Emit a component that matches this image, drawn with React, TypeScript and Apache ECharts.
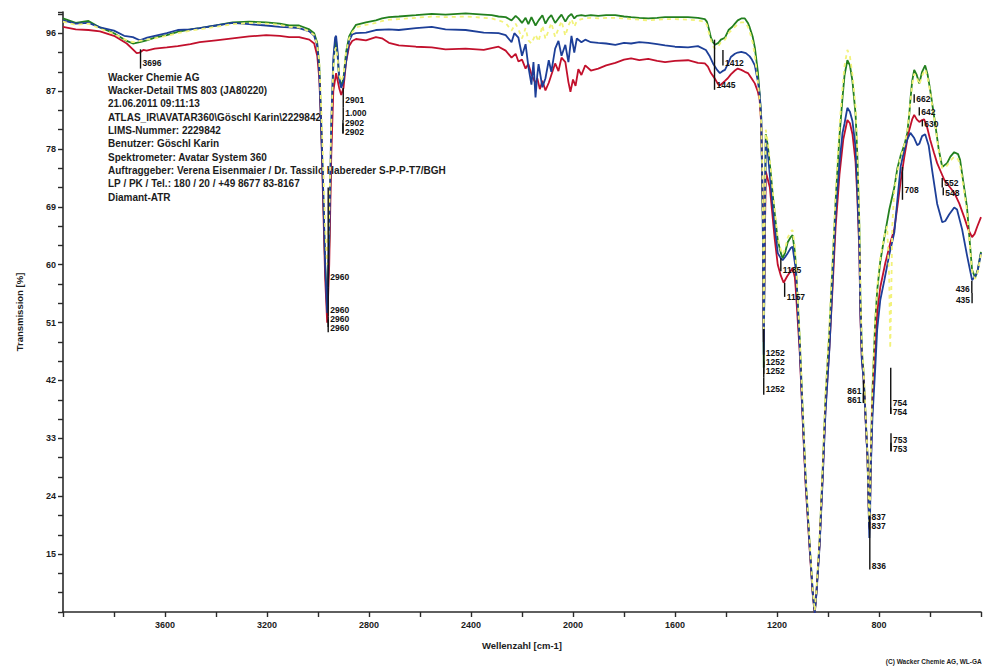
import React, { useEffect, useRef } from "react";
import * as echarts from "echarts";

// IR spectra (ATR), transmission in % over wavenumber in cm-1
const redSpectrum: number[][] = [
  [4000, 97.0], [3950, 96.6], [3900, 96.5], [3855, 96.3], [3800, 95.6], [3750, 94.4], [3726, 93.5], [3711, 92.9],
  [3699, 93.0], [3685, 93.4], [3672, 93.3], [3640, 93.6], [3593, 93.8], [3550, 94.0], [3500, 94.3], [3464, 94.6],
  [3400, 94.9], [3335, 95.2], [3270, 95.5], [3203, 95.7], [3150, 95.6], [3113, 95.4], [3074, 95.4], [3034, 95.0],
  [3015, 94.4], [3003, 92.5], [2995, 89], [2988, 82], [2980, 70], [2972, 58], [2964, 51], [2956, 60], [2948, 77],
  [2940, 87], [2929, 89.8], [2917, 87.5], [2909, 86.4], [2900, 87.5], [2890, 91.5], [2878, 94.0], [2866, 94.8],
  [2851, 95.1], [2812, 94.9], [2773, 95.4], [2749, 95.2], [2722, 94.5], [2683, 94.1], [2616, 93.9], [2554, 93.8],
  [2500, 93.5], [2421, 93.6], [2350, 93.4], [2319, 93.7], [2292, 93.9], [2264, 93.3], [2241, 92.2], [2225, 92.8],
  [2214, 91.6], [2200, 91.9], [2186, 90.5], [2175, 91.2], [2163, 89.6], [2147, 88.2], [2140, 89.0], [2130, 87.3],
  [2120, 88.6], [2108, 87.1], [2095, 88.3], [2085, 89.5], [2070, 91.3], [2057, 90.1], [2045, 92.2], [2030, 91.5],
  [2018, 88.4], [2010, 86.9], [2000, 88.8], [1990, 87.8], [1979, 90.4], [1967, 89.5], [1952, 91.0], [1930, 90.2],
  [1901, 90.5], [1870, 91.0], [1834, 91.4], [1800, 91.9], [1772, 92.1], [1740, 91.8], [1705, 92.0], [1670, 91.7],
  [1639, 91.5], [1600, 91.7], [1549, 91.8], [1510, 91.4], [1483, 91.3], [1471, 90.8], [1459, 89.8], [1443, 88.9],
  [1430, 88.0], [1424, 87.9], [1404, 88.6], [1393, 89.0], [1381, 89.6], [1365, 90.2], [1354, 90.5], [1340, 90.3],
  [1326, 90.0], [1314, 89.8], [1300, 89.0], [1287, 88.2], [1275, 86.9], [1268, 85.6], [1262, 82], [1256, 70],
  [1252, 48], [1248, 63], [1244, 74.5], [1228, 72], [1209, 64], [1197, 60], [1185, 58.3], [1174, 57.2],
  [1160, 58.2], [1150, 58.8], [1139, 59.5], [1130, 58], [1127, 56.5], [1111, 46.5], [1100, 36.5], [1088, 26],
  [1072, 15.8], [1060, 8.8], [1052, 5.8], [1045, 9.2], [1033, 16.5], [1021, 27], [1010, 37.5], [994, 47.5],
  [982, 56.5], [970, 66], [955, 74], [940, 79.5], [924, 82.5], [914, 82.0], [904, 80.3], [892, 76], [885, 70.5],
  [877, 62], [873, 52], [867, 45], [861, 42.8], [855, 38], [849, 33], [845, 30], [841, 23], [838, 19], [835, 22.5],
  [833, 27.5], [826, 38], [815, 47], [807, 52.5], [795, 56.5], [775, 60.3], [755, 63.5], [740, 65.5], [728, 69],
  [715, 73], [701, 76.7], [689, 79.5], [681, 81], [670, 82.6], [662, 83.3], [652, 82.6], [642, 82.2], [631, 82.5],
  [623, 82.6], [612, 81.5], [599, 79.4], [585, 77.5], [572, 75.8], [558, 74.5], [544, 73.2], [525, 72.2],
  [505, 71.2], [485, 69.5], [466, 67.4], [450, 65.5], [435, 64.3], [425, 64.8], [415, 65.9], [400, 67.4],
];

const blueSpectrum: number[][] = [
  [4000, 98.0], [3950, 97.5], [3900, 97.6], [3855, 96.9], [3800, 96.4], [3760, 95.6], [3726, 95.4], [3699, 94.9],
  [3670, 95.3], [3640, 95.6], [3593, 96.0], [3550, 96.5], [3500, 96.6], [3464, 96.8], [3400, 97.2], [3335, 97.6],
  [3270, 97.4], [3203, 97.2], [3150, 97.0], [3113, 96.9], [3074, 96.8], [3034, 96.3], [3015, 95.6], [3003, 94.0],
  [2995, 90], [2988, 82], [2980, 72], [2972, 60], [2964, 52.5], [2956, 64], [2948, 82], [2940, 92], [2933, 95.3],
  [2929, 95.6], [2923, 93], [2917, 89], [2909, 87.5], [2900, 88.5], [2890, 91.5], [2878, 94.8], [2866, 95.8],
  [2851, 96.0], [2812, 96.1], [2773, 96.5], [2722, 96.6], [2683, 96.5], [2616, 96.8], [2554, 97.0], [2500, 96.6],
  [2421, 96.5], [2350, 96.1], [2292, 96.0], [2264, 95.7], [2241, 94.6], [2230, 96.0], [2214, 95.3], [2200, 92.5],
  [2186, 94.3], [2175, 90.8], [2163, 88.0], [2155, 91.5], [2147, 86.0], [2140, 89.5], [2135, 91.2], [2120, 87.6],
  [2108, 89.0], [2095, 91.8], [2085, 90.0], [2070, 93.6], [2057, 94.8], [2045, 92.5], [2030, 94.2], [2018, 91.5],
  [2006, 95.6], [1995, 93.0], [1985, 95.2], [1967, 94.6], [1952, 95.0], [1930, 94.6], [1901, 94.5], [1870, 94.4],
  [1834, 94.2], [1800, 94.5], [1772, 94.4], [1740, 94.6], [1705, 94.5], [1670, 94.3], [1639, 94.1], [1600, 93.9],
  [1549, 93.8], [1510, 94.0], [1479, 93.4], [1465, 92.5], [1451, 91.3], [1435, 90.3], [1424, 89.8], [1414, 90.1],
  [1404, 90.3], [1393, 91.2], [1381, 92.3], [1365, 92.8], [1354, 93.0], [1340, 93.1], [1322, 92.9], [1307, 92.4],
  [1300, 92.0], [1287, 91.0], [1275, 88.5], [1268, 86.5], [1262, 83], [1256, 68], [1252, 46], [1248, 64],
  [1244, 79.4], [1236, 77.4], [1224, 72.1], [1209, 65.8], [1197, 61.8], [1185, 61.0], [1178, 60.7], [1168, 61.2],
  [1158, 61.8], [1146, 62.6], [1139, 62.8], [1127, 59.5], [1111, 47.2], [1100, 37], [1088, 26.6], [1072, 16.2],
  [1060, 9], [1052, 5.8], [1045, 9], [1033, 16.2], [1021, 26.6], [1010, 37], [994, 47.2], [982, 57.6], [970, 68],
  [955, 75.8], [943, 80.5], [935, 82], [924, 84.4], [914, 83.8], [904, 82.3], [892, 78.3], [885, 71.6], [877, 62.8],
  [873, 52.5], [867, 45], [861, 42.5], [855, 38], [849, 33], [845, 30], [841, 23], [838, 17.5], [835, 21], [833, 27],
  [826, 36], [815, 43.7], [807, 50], [795, 54.5], [779, 57.6], [760, 61.5], [740, 65], [728, 70], [715, 75.3],
  [701, 77.8], [689, 79.5], [677, 80.5], [662, 79.7], [650, 78.6], [642, 78.8], [631, 80.0], [619, 80.3],
  [605, 78.5], [591, 74.5], [572, 69.5], [552, 66.6], [540, 66.8], [525, 67.8], [505, 68.9], [494, 68.6],
  [474, 65.5], [455, 61.5], [435, 57.6], [415, 58.7], [400, 61.8],
];

const greenSpectrum: number[][] = [
  [4000, 98.3], [3950, 97.6], [3900, 97.9], [3855, 96.9], [3800, 96.0], [3750, 94.8], [3726, 94.4], [3699, 94.6],
  [3672, 94.9], [3640, 95.3], [3593, 95.7], [3550, 96.2], [3500, 96.6], [3464, 96.8], [3400, 97.2], [3335, 97.7],
  [3270, 97.8], [3203, 97.7], [3150, 97.5], [3113, 97.2], [3074, 97.2], [3034, 96.6], [3015, 96.0], [3003, 94.5],
  [2995, 91], [2988, 83], [2980, 72], [2972, 60], [2964, 53], [2956, 63], [2948, 80], [2940, 91], [2933, 94.5],
  [2929, 94.8], [2923, 92.5], [2917, 89], [2909, 87.8], [2900, 89], [2890, 93], [2878, 95.5], [2866, 96.4],
  [2851, 97.3], [2812, 97.7], [2773, 98.0], [2749, 98.3], [2722, 98.5], [2683, 98.6], [2616, 98.8], [2554, 99.0],
  [2500, 98.9], [2421, 99.1], [2350, 98.9], [2319, 98.8], [2292, 98.6], [2264, 98.5], [2241, 98.0], [2225, 98.7],
  [2214, 98.3], [2200, 97.6], [2186, 98.4], [2175, 97.4], [2163, 98.5], [2147, 97.2], [2135, 98.0], [2120, 98.8],
  [2108, 97.5], [2095, 98.4], [2085, 98.8], [2070, 97.6], [2057, 98.3], [2045, 98.9], [2030, 97.8], [2018, 98.6],
  [2006, 99.0], [1995, 98.3], [1985, 98.7], [1967, 98.8], [1952, 98.7], [1930, 98.8], [1901, 98.7], [1870, 98.8],
  [1834, 98.8], [1800, 98.6], [1772, 98.5], [1740, 98.4], [1705, 98.3], [1670, 98.4], [1639, 98.5], [1600, 98.5],
  [1549, 98.5], [1510, 98.4], [1483, 98.2], [1475, 97.8], [1468, 96.8], [1459, 95.3], [1451, 94.6], [1443, 94.2],
  [1430, 94.5], [1420, 95.0], [1404, 95.3], [1390, 96.5], [1375, 97.0], [1365, 97.5], [1354, 98.0], [1340, 98.3],
  [1326, 98.3], [1314, 97.6], [1307, 96.9], [1295, 95.4], [1287, 93.8], [1275, 90.0], [1268, 86.5], [1262, 83],
  [1256, 68], [1252, 44], [1248, 66], [1244, 80.3], [1236, 78.5], [1225, 74.5], [1217, 71], [1205, 66.5],
  [1197, 63.8], [1185, 61.8], [1178, 61.0], [1168, 61.9], [1158, 63.5], [1146, 64.3], [1139, 64.6], [1130, 62.0],
  [1127, 60.5], [1111, 48.5], [1100, 38], [1088, 27], [1072, 16.5], [1060, 9.2], [1052, 6.0], [1045, 9.3],
  [1033, 17], [1021, 28], [1010, 39], [994, 50], [982, 60], [970, 70], [955, 80], [943, 86], [935, 89.5],
  [924, 91.8], [914, 91.0], [904, 88.5], [892, 83.5], [885, 77], [877, 66], [873, 55], [867, 46.5], [861, 43.5],
  [855, 38.5], [849, 33.5], [845, 30], [841, 23.5], [838, 19.5], [835, 23], [833, 29], [826, 40], [815, 51],
  [807, 56], [795, 60.5], [779, 64.3], [760, 68.5], [740, 72], [728, 75], [715, 77], [708, 77.8], [698, 79],
  [689, 80.5], [681, 83.5], [677, 85.6], [670, 88.5], [662, 90.3], [652, 89.5], [642, 88.2], [631, 90.0],
  [619, 91.0], [609, 89.5], [599, 87.1], [580, 82], [566, 78], [552, 75.2], [533, 75.8], [520, 76.8], [505, 77.5],
  [490, 77.2], [482, 76.3], [468, 72.5], [455, 69], [445, 64], [435, 59.2], [423, 58], [412, 59.3], [404, 61.2],
  [400, 62],
];

const yellowSpectrum: number[][] = [
  [4000, 97.8], [3950, 97.3], [3900, 97.5], [3855, 96.7], [3800, 95.9], [3750, 94.9], [3726, 94.6], [3699, 94.8],
  [3672, 95.0], [3640, 95.2], [3593, 95.6], [3550, 96.0], [3500, 96.4], [3464, 96.6], [3400, 97.0], [3335, 97.4],
  [3270, 97.6], [3203, 97.5], [3150, 97.3], [3113, 97.0], [3074, 96.9], [3034, 96.3], [3015, 95.7], [3003, 94.2],
  [2995, 91.5], [2988, 85], [2980, 76], [2972, 66], [2964, 60], [2956, 68], [2948, 82], [2940, 90.5], [2933, 93.5],
  [2929, 93.8], [2923, 92], [2917, 89.5], [2909, 88.5], [2900, 89.5], [2890, 93], [2878, 95.2], [2866, 96.1],
  [2851, 96.9], [2812, 97.3], [2773, 97.6], [2749, 97.9], [2722, 98.1], [2683, 98.2], [2616, 98.4], [2554, 98.6],
  [2500, 98.5], [2421, 98.6], [2350, 98.4], [2319, 98.3], [2292, 98.0], [2264, 97.6], [2241, 96.4], [2225, 97.5],
  [2214, 96.6], [2200, 95.2], [2186, 96.8], [2175, 94.9], [2163, 94.4], [2147, 95.8], [2135, 94.7], [2120, 97.2],
  [2108, 95.1], [2095, 96.5], [2085, 97.6], [2070, 95.4], [2057, 96.7], [2045, 97.9], [2030, 95.6], [2018, 97.2],
  [2006, 98.2], [1995, 97.0], [1985, 97.9], [1967, 98.2], [1952, 98.3], [1930, 98.4], [1901, 98.3], [1870, 98.4],
  [1834, 98.4], [1800, 98.3], [1772, 98.2], [1740, 98.1], [1705, 98.0], [1670, 98.1], [1639, 98.2], [1600, 98.2],
  [1549, 98.1], [1510, 98.0], [1483, 97.8], [1475, 97.3], [1468, 96.2], [1459, 94.9], [1451, 94.0], [1443, 93.6],
  [1430, 94.0], [1420, 94.6], [1404, 95.0], [1390, 96.0], [1375, 96.6], [1365, 97.0], [1354, 97.4], [1340, 97.7],
  [1326, 97.7], [1314, 97.0], [1307, 96.2], [1295, 94.5], [1287, 92.5], [1275, 88.5], [1268, 85.5], [1262, 82],
  [1256, 72], [1252, 50], [1248, 68], [1244, 81], [1236, 79], [1225, 75], [1217, 71.5], [1205, 67], [1197, 64.2],
  [1185, 62.3], [1178, 61.6], [1168, 62.5], [1158, 64.2], [1146, 65.2], [1139, 65.4], [1130, 62.8], [1127, 61.0],
  [1111, 49], [1100, 38.5], [1088, 27.5], [1072, 17], [1060, 9.5], [1052, 6.2], [1045, 9.6], [1033, 17.5],
  [1021, 28.5], [1010, 40], [994, 51], [982, 61], [970, 71], [955, 81.5], [943, 87.5], [935, 91], [924, 93.4],
  [914, 92.4], [904, 89.5], [892, 84.5], [885, 78], [877, 67], [873, 56], [867, 47], [861, 44], [855, 39],
  [849, 34], [845, 30.5], [841, 24], [838, 20], [835, 23.5], [833, 29.5], [826, 41], [815, 51.5], [807, 56.5],
  [795, 61], [779, 64.5], [768, 66], [760, 58], [756, 47], [752, 55], [748, 66], [740, 71.5], [728, 74.5],
  [715, 76.8], [708, 77.6], [698, 79], [689, 80.8], [681, 83.8], [677, 85.2], [670, 88], [662, 89.7], [652, 89.2],
  [642, 88.0], [631, 89.4], [619, 90.4], [609, 89.0], [599, 86.8], [580, 81.8], [566, 77.8], [552, 75.0],
  [533, 75.4], [520, 76.2], [505, 76.8], [490, 76.4], [482, 75.5], [468, 71.8], [455, 68.4], [445, 63.5],
  [435, 59], [423, 57.8], [412, 59], [404, 60.8], [400, 61.6],
];

// Peak labels: [wavenumber, leader top %T, leader bottom %T, label %T, text, side]
const peakMarks: (number | string)[][] = [
  [3696, 93.5, 90.5, 91.3, "3696", "l"],
  [2901, 87.5, 84.5, 85.6, "2901", "l"],
  [2901, 84.5, 82.5, 83.6, "1.000", "l"],
  [2902, 82.5, 80.4, 82.1, "2902", "l"],
  [2902, 82.0, 80.4, 80.6, "2902", "l"],
  [2960, 72, 56.5, 58.1, "2960", "l"],
  [2960, 56.5, 52.0, 53.0, "2960", "l"],
  [2960, 52.0, 50.3, 51.6, "2960", "l"],
  [2960, 51.5, 49.5, 50.2, "2960", "l"],
  [1445, 95.0, 87.2, 87.9, "1445", "l"],
  [1412, 93.4, 91.0, 91.3, "1412", "l"],
  [1252, 50.0, 44.0, 46.2, "1252", "l"],
  [1252, 45.0, 43.0, 44.8, "1252", "l"],
  [1252, 44.0, 42.5, 43.4, "1252", "l"],
  [1252, 42.5, 39.8, 40.6, "1252", "l"],
  [1185, 61.0, 59.0, 59.2, "1185", "l"],
  [1170, 57.2, 55.0, 55.0, "1157", "l"],
  [861, 42.0, 38.5, 40.3, "861", "r"],
  [861, 40.0, 38.5, 38.9, "861", "r"],
  [837, 21.0, 19.2, 20.8, "837", "l"],
  [837, 20.0, 18.8, 19.4, "837", "l"],
  [836, 19.2, 12.6, 13.2, "836", "l"],
  [754, 44.0, 36.8, 38.5, "754", "l"],
  [754, 37.8, 36.8, 37.1, "754", "l"],
  [753, 33.8, 31.0, 32.8, "753", "l"],
  [753, 32.3, 31.0, 31.4, "753", "l"],
  [708, 75.2, 70.1, 71.6, "708", "l"],
  [662, 86.5, 85.2, 85.7, "662", "l"],
  [642, 84.5, 83.2, 83.7, "642", "l"],
  [630, 82.5, 81.5, 81.9, "630", "l"],
  [552, 73.5, 72.0, 72.7, "552", "l"],
  [548, 72.0, 70.8, 71.2, "548", "l"],
  [436, 57.5, 55.6, 56.2, "436", "r"],
  [435, 55.6, 54.0, 54.5, "435", "r"],
];

const infoLines: string[] = [
  "Wacker Chemie AG",
  "Wacker-Detail TMS 803 (JA80220)",
  "21.06.2011 09:11:13",
  "ATLAS_IR\\AVATAR360\\Göschl Karin\\2229842",
  "LIMS-Nummer: 2229842",
  "Benutzer: Göschl Karin",
  "Spektrometer: Avatar System 360",
  "Auftraggeber: Verena Eisenmaier / Dr. Tassilo Habereder S-P-P-T7/BGH",
  "LP / PK / Tel.: 180 / 20 / +49 8677 83-8167",
  "Diamant-ATR",
];

const FONT = "'Liberation Sans', Arial, Helvetica, sans-serif";
const INK = "#1c1c1c";

export default function App() {
  const ref = useRef<HTMLDivElement>(null);

  useEffect(() => {
    if (!ref.current) return;
    const chart = echarts.init(ref.current, undefined, { renderer: "svg" });

    const lineSeries = (name: string, data: number[][], color: string, z: number, dashed = false) => ({
      name,
      type: "line",
      data,
      showSymbol: false,
      symbol: "none",
      silent: true,
      z,
      lineStyle: dashed
        ? { color, width: 1.8, type: [4, 4] }
        : { color, width: 1.8 },
    });

    const infoGraphics = infoLines.map((t, i) => ({
      type: "text",
      x: 108,
      y: 77 + i * 13.35,
      silent: true,
      style: {
        text: t,
        fill: INK,
        font: `bold 10px ${FONT}`,
        verticalAlign: "middle",
      },
    }));

    chart.setOption({
      animation: false,
      backgroundColor: "#ffffff",
      grid: { left: 63, right: 0, top: 12, bottom: 59, containLabel: false },
      xAxis: {
        type: "value",
        min: 400,
        max: 4000,
        interval: 200,
        inverse: true,
        name: "Wellenzahl [cm-1]",
        nameLocation: "middle",
        nameGap: 28,
        nameTextStyle: { fontFamily: FONT, fontSize: 9.5, fontWeight: "bold", color: INK },
        axisLine: { show: true, onZero: false, lineStyle: { color: "#2a2a2a", width: 1.6 } },
        axisTick: { show: true, length: 5, lineStyle: { color: "#2a2a2a", width: 1.4 } },
        splitLine: { show: false },
        axisLabel: {
          margin: 8,
          fontFamily: FONT,
          fontSize: 9,
          fontWeight: "bold",
          color: INK,
          formatter: (v: number) => {
            const r = Math.round(v);
            return r % 400 === 0 && r !== 4000 && r !== 400 ? String(r) : "";
          },
        },
      },
      yAxis: {
        type: "value",
        min: 6,
        max: 99.3,
        interval: 3,
        name: "Transmission [%]",
        nameLocation: "middle",
        nameGap: 39,
        nameRotate: 90,
        nameTextStyle: { fontFamily: FONT, fontSize: 9.5, fontWeight: "bold", color: INK },
        axisLine: { show: true, onZero: false, lineStyle: { color: "#2a2a2a", width: 1.6 } },
        axisTick: { show: true, length: 5, lineStyle: { color: "#2a2a2a", width: 1.4 } },
        splitLine: { show: false },
        axisLabel: {
          margin: 7,
          fontFamily: FONT,
          fontSize: 9,
          fontWeight: "bold",
          color: INK,
          formatter: (v: number) => {
            const r = Math.round(v * 10) / 10;
            return Number.isInteger(r) && r > 6 && (r - 6) % 9 === 0 ? String(r) : "";
          },
        },
      },
      series: [
        lineSeries("green", greenSpectrum, "#23801f", 2),
        lineSeries("red", redSpectrum, "#c2102c", 3),
        lineSeries("blue", blueSpectrum, "#1d3f98", 4),
        lineSeries("yellow", yellowSpectrum, "#f2f27a", 5, true),
        {
          type: "custom",
          silent: true,
          clip: false,
          z: 10,
          data: peakMarks.map((m) => [m[0], m[1], m[2], m[3]]),
          renderItem: (params: any, api: any) => {
            const m = peakMarks[params.dataIndex];
            const wn = api.value(0);
            const a = api.coord([wn, api.value(1)]);
            const b = api.coord([wn, api.value(2)]);
            const l = api.coord([wn, api.value(3)]);
            const right = m[5] === "r";
            return {
              type: "group",
              children: [
                {
                  type: "line",
                  shape: { x1: a[0], y1: a[1], x2: b[0], y2: b[1] },
                  style: { stroke: "#111", lineWidth: 1.4 },
                },
                {
                  type: "text",
                  x: l[0] + (right ? -2 : 2),
                  y: l[1],
                  style: {
                    text: String(m[4]),
                    fill: "#111",
                    font: `bold 8.5px ${FONT}`,
                    align: right ? "right" : "left",
                    verticalAlign: "middle",
                  },
                },
              ],
            };
          },
        },
      ],
      graphic: [
        ...infoGraphics,
        {
          type: "text",
          right: 2,
          top: 658,
          silent: true,
          style: {
            text: "(C) Wacker Chemie AG, WL-GA",
            fill: INK,
            font: `bold 6.5px ${FONT}`,
          },
        },
      ],
    });

    return () => chart.dispose();
  }, []);

  return (
    <div
      ref={ref}
      style={{ position: "fixed", left: 0, top: 0, width: 984, height: 671, background: "#fff" }}
    />
  );
}
